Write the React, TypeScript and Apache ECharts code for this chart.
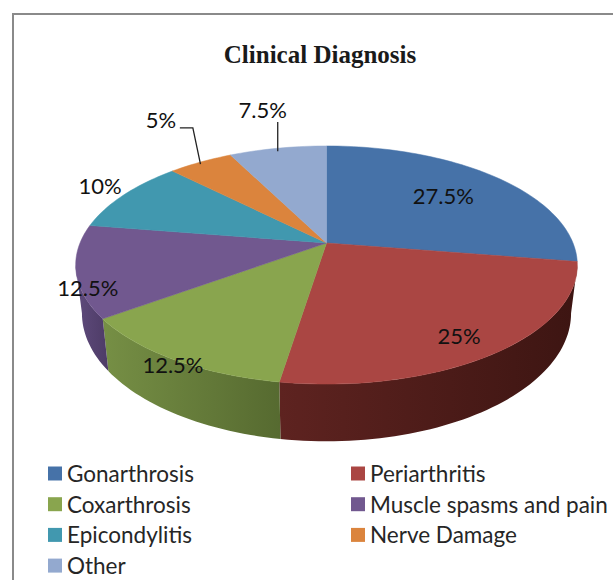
import React, { useEffect, useRef } from "react";
import * as echarts from "echarts";

const categories = ["Gonarthrosis", "Periarthritis", "Coxarthrosis", "Muscle spasms and pain", "Epicondylitis", "Nerve Damage", "Other"];
const shares = [27.5, 25, 12.5, 12.5, 10, 5, 7.5];
const colors = ["#4672A8", "#AA4643", "#89A54E", "#71588F", "#4198AF", "#DB843D", "#93A9CF"];
const sideFrom = ["#4672A8", "#5E2320", "#768F45", "#5F4B7C", "#4198AF", "#DB843D", "#93A9CF"];
const sideTo = ["#4672A8", "#3D1512", "#566A30", "#4D3B66", "#4198AF", "#DB843D", "#93A9CF"];
// label anchors, in the pie's unit coordinates
const labelAnchors: [number, number][] = [
  [0.474, -0.409],
  [0.538, 0.8],
  [-0.623, 1.055],
  [-0.968, 0.391],
  [-0.919, -0.496],
  [-0.672, -1.07],
  [-0.259, -1.165],
];

const K = 0.185;
const DEPTH = 0.405;
const BOTTOM_SHRINK = 0.975;
const VISIBLE_FROM = 100.66;
const VISIBLE_TO = 259.34;

const total = shares.reduce((a, b) => a + b, 0);
const starts: number[] = [];
shares.reduce((acc, v, i) => {
  starts[i] = (acc / total) * 360;
  return acc + v;
}, 0);
const ends = shares.map((v, i) => starts[i] + (v / total) * 360);

function project(deg: number, bottom = false): [number, number] {
  const t = (deg * Math.PI) / 180;
  const X = Math.sin(t);
  const Y = -Math.cos(t);
  const w = 1 - K * Y;
  return bottom ? [(X / w) * BOTTOM_SHRINK, Y / w + DEPTH / w] : [X / w, Y / w];
}

function arc(a: number, b: number, bottom = false): [number, number][] {
  const pts: [number, number][] = [];
  const n = Math.max(2, Math.ceil((b - a) / 1.5));
  for (let i = 0; i <= n; i++) pts.push(project(a + ((b - a) * i) / n, bottom));
  return pts;
}

const labelFont = { fontFamily: "Lato", fontSize: 22, fill: "#111" };

function buildSeries(): any[] {
  const base = {
    type: "custom",
    coordinateSystem: "cartesian2d",
    clip: false,
    silent: true,
    animation: false,
  };
  const sides = categories.map((name, i) => ({
    ...base,
    name: `${name} side`,
    data: [[0, 0, shares[i]]],
    itemStyle: { color: sideFrom[i] },
    renderItem: (_p: any, api: any) => {
      const a = Math.max(starts[i], VISIBLE_FROM);
      const b = Math.min(ends[i], VISIBLE_TO);
      if (b <= a) return { type: "group", children: [] };
      const pts = [...arc(a, b), ...arc(a, b, true).reverse()].map((p) => api.coord(p));
      return {
        type: "polygon",
        shape: { points: pts },
        style: {
          fill: new echarts.graphic.LinearGradient(0, 0, 1, 0, [
            { offset: 0, color: sideFrom[i] },
            { offset: 1, color: sideTo[i] },
          ]),
        },
      };
    },
  }));
  const tops = categories.map((name, i) => ({
    ...base,
    name,
    data: [[0, 0, shares[i]]],
    itemStyle: { color: colors[i] },
    renderItem: (_p: any, api: any) => {
      const pts = [[0, 0], ...arc(starts[i], ends[i])].map((p) => api.coord(p));
      return {
        type: "polygon",
        shape: { points: pts },
        style: { fill: colors[i], stroke: colors[i], lineWidth: 0.5 },
      };
    },
  }));
  const labels = {
    ...base,
    name: "Labels",
    data: shares.map((v, i) => [labelAnchors[i][0], labelAnchors[i][1], v]),
    renderItem: (p: any, api: any) => {
      const i = p.dataIndex;
      const [x, y] = api.coord(labelAnchors[i]);
      const children: any[] = [
        {
          type: "text",
          x,
          y,
          style: { text: `${shares[i]}%`, align: "center", verticalAlign: "middle", ...labelFont },
        },
      ];
      if (i >= 5) {
        const mid = (starts[i] + ends[i]) / 2;
        const tip = api.coord(project(mid));
        const path =
          i === 5
            ? [[x + 19, y + 8], [x + 32, y + 8], [tip[0], tip[1] + 2]]
            : [[tip[0], y + 13], [tip[0], tip[1] + 3]];
        children.push({
          type: "polyline",
          shape: { points: path },
          style: { stroke: "#222", lineWidth: 1.3, fill: "none" },
        });
      }
      return { type: "group", children };
    },
  };
  return [...sides, ...tops, labels];
}

const legendBase = {
  orient: "vertical",
  itemWidth: 14,
  itemHeight: 14,
  itemGap: 7.7,
  selectedMode: false,
  icon: "rect",
  padding: 0,
  height: 150,
  textStyle: { fontFamily: "Lato", fontSize: 22.5, color: "#262626", lineHeight: 16 },
};

export default function App() {
  const ref = useRef<HTMLDivElement>(null);
  useEffect(() => {
    const chart = echarts.init(ref.current!, null, { renderer: "svg" });
    const legendItem = (i: number) => ({ name: categories[i], itemStyle: { color: colors[i] } });
    chart.setOption({
      animation: false,
      backgroundColor: "#fff",
      title: {
        text: "Clinical Diagnosis",
        left: 320,
        top: 42,
        textAlign: "center",
        padding: 0,
        textStyle: { fontFamily: "Liberation Serif", fontWeight: "bold", fontSize: 25, color: "#1a1a1a" },
      },
      grid: { left: 80, width: 493, top: 128, height: 230, containLabel: false },
      xAxis: { type: "value", min: -1, max: 1, show: false },
      yAxis: { type: "value", min: -1, max: 1, inverse: true, show: false },
      legend: [
        { ...legendBase, left: 48, top: 462, data: [0, 2, 4, 6].map(legendItem) },
        { ...legendBase, left: 351, top: 462, data: [1, 3, 5].map(legendItem) },
      ],
      graphic: [
        {
          type: "polyline",
          shape: { points: [[13, 580], [13, 14], [613, 14]] },
          style: { stroke: "#8a8a8a", lineWidth: 2, fill: "none" },
        },
      ],
      series: buildSeries(),
    });
    return () => chart.dispose();
  }, []);
  return <div ref={ref} style={{ position: "absolute", left: 0, top: 0, width: 613, height: 580 }} />;
}
